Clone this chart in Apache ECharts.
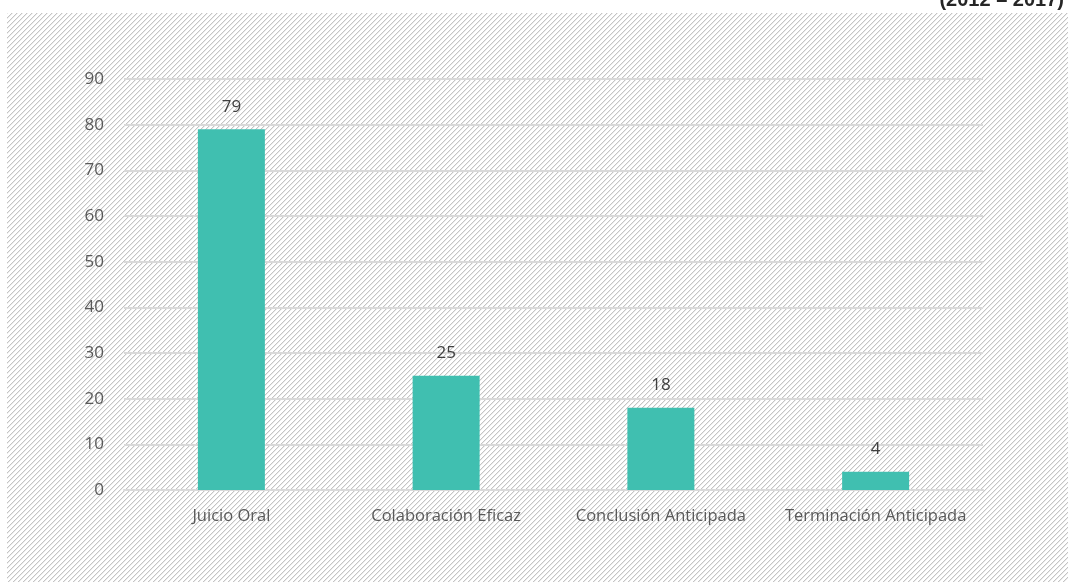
<!DOCTYPE html>
<html>
<head>
<meta charset="utf-8">
<script src="https://cdn.jsdelivr.net/npm/echarts@6/dist/echarts.min.js"></script>
<style>html,body{margin:0;padding:0;background:#fff;}#c{width:1068px;height:582px;}</style>
</head>
<body>
<div id="c"></div>
<script>
const categories = ['Juicio Oral', 'Colaboración Eficaz', 'Conclusión Anticipada', 'Terminación Anticipada'];
const values = [79, 25, 18, 4];
const yTicks = [0, 10, 20, 30, 40, 50, 60, 70, 80, 90];
const subtitle = '(2012 – 2017)';

function hatch() {
  const s = 5;
  const cv = document.createElement('canvas');
  cv.width = s; cv.height = s;
  const ctx = cv.getContext('2d');
  ctx.fillStyle = '#ffffff';
  ctx.fillRect(0, 0, s, s);
  for (let i = 0; i < s; i++) {
    ctx.fillStyle = '#c4c4c4';
    ctx.fillRect(i, s - 1 - i, 1, 1);
    ctx.fillStyle = '#ebebeb';
    ctx.fillRect(i, (s - i) % s, 1, 1);
  }
  return cv;
}

const chart = echarts.init(document.getElementById('c'), null, {renderer: 'canvas'});
chart.setOption({
  backgroundColor: '#ffffff',
  animation: false,
  graphic: [
    {type: 'rect', z: -10, silent: true, shape: {x: 7, y: 13, width: 1061, height: 569},
     style: {fill: {image: hatch(), repeat: 'repeat'}}},
    {type: 'text', right: 4, top: -10, z: 10, style: {text: subtitle, fill: '#262626',
      font: 'bold 20px "Liberation Sans Narrow", "Liberation Sans", sans-serif'}}
  ],
  grid: {left: 124, right: 85, top: 79, bottom: 92, containLabel: false},
  xAxis: {
    type: 'category', data: categories,
    axisLine: {show: true, lineStyle: {color: '#d9d9d9', width: 2}},
    axisTick: {show: false},
    axisLabel: {color: '#595959', fontSize: 16.5, margin: 18, fontFamily: 'Open Sans, sans-serif', interval: 0}
  },
  yAxis: {
    type: 'value', min: 0, max: 90, interval: 10,
    axisLine: {show: false}, axisTick: {show: false},
    splitLine: {lineStyle: {color: '#d9d9d9', width: 2}},
    axisLabel: {color: '#595959', fontSize: 17, margin: 20, fontFamily: 'Open Sans, sans-serif',
      formatter: v => yTicks.includes(v) ? String(v) : ''}
  },
  series: [{
    type: 'bar', data: values, barWidth: 67,
    itemStyle: {color: '#40BFB0'},
    label: {show: true, position: 'top', distance: 14, color: '#404040', fontSize: 17, fontFamily: 'Open Sans, sans-serif'}
  }]
});
</script>
</body>
</html>
